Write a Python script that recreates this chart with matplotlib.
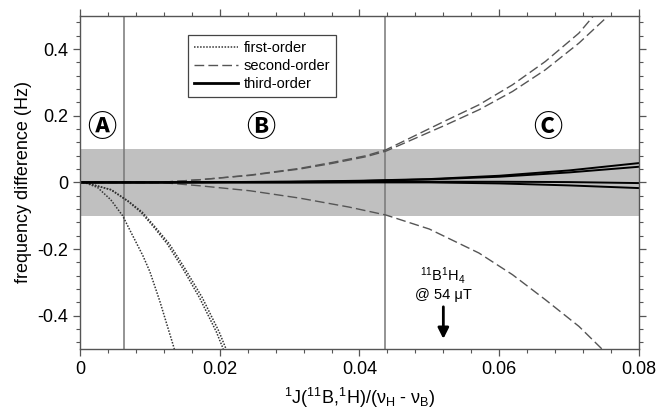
import numpy as np
import matplotlib.pyplot as plt
from matplotlib.ticker import MultipleLocator

plt.rcParams['font.family'] = ['Liberation Sans', 'DejaVu Sans']
plt.rcParams['mathtext.fontset'] = 'custom'
plt.rcParams['mathtext.rm'] = 'Liberation Sans'
plt.rcParams['mathtext.it'] = 'Liberation Sans:italic'

# first-order (dotted)
first_a_x = [0, 0.0006, 0.0025, 0.0044, 0.0061, 0.0073, 0.0090, 0.0100, 0.0114, 0.0135]
first_a_y = [0, 0, -0.015, -0.052, -0.100, -0.150, -0.220, -0.268, -0.355, -0.500]
first_b_x = [0, 0.0006, 0.0044, 0.0068, 0.0087, 0.0106, 0.0125, 0.0147, 0.0171, 0.0195, 0.0205]
first_b_y = [0, 0, -0.022, -0.056, -0.089, -0.135, -0.185, -0.258, -0.346, -0.448, -0.500]
first_c_x = [0, 0.0006, 0.0045, 0.0069, 0.0089, 0.0108, 0.0128, 0.0150, 0.0175, 0.0199, 0.0209]
first_c_y = [0, 0, -0.022, -0.056, -0.089, -0.135, -0.185, -0.258, -0.346, -0.448, -0.500]

# second-order (dashed)
second_up1_x = [0, 0.012, 0.0171, 0.0243, 0.0314, 0.0361, 0.0409, 0.0438, 0.0523, 0.0571, 0.0619, 0.0666, 0.0714, 0.0735]
second_up1_y = [0, 0.001, 0.008, 0.022, 0.042, 0.060, 0.080, 0.098, 0.185, 0.233, 0.293, 0.363, 0.448, 0.500]
second_up2_x = [0, 0.012, 0.0171, 0.0243, 0.0314, 0.0361, 0.0409, 0.0438, 0.0523, 0.0571, 0.0619, 0.0666, 0.0714, 0.0757]
second_up2_y = [0, 0.001, 0.008, 0.021, 0.040, 0.057, 0.077, 0.094, 0.172, 0.218, 0.273, 0.338, 0.418, 0.502]
second_dn_x = [0, 0.012, 0.0171, 0.0243, 0.0314, 0.0385, 0.0438, 0.0500, 0.0571, 0.0619, 0.0666, 0.0714, 0.0747]
second_dn_y = [0, -0.001, -0.010, -0.025, -0.047, -0.074, -0.098, -0.140, -0.212, -0.277, -0.352, -0.432, -0.500]

# third-order (solid)
third_x = [0, 0.01, 0.02, 0.03, 0.04, 0.05, 0.06, 0.07, 0.08]
third_1 = [0, 0, 0.001, 0.002, 0.005, 0.010, 0.020, 0.036, 0.058]
third_2 = [0, 0, 0.001, 0.002, 0.004, 0.009, 0.017, 0.030, 0.047]
third_3 = [0, 0, 0, 0, 0.001, 0.002, 0.002, 0.001, -0.002]
third_4 = [0, 0, 0, 0, 0, 0, -0.003, -0.009, -0.017]

region_lines = [0.0063, 0.0436]
band = (-0.1, 0.1)
regions = [(0.0031, 'Ⓐ'), (0.0259, 'Ⓑ'), (0.0669, 'Ⓒ')]
marker_x = 0.052

fig = plt.figure(figsize=(6.58, 4.09), dpi=100)
ax = fig.add_axes([0.1216, 0.1467, 0.8495, 0.8146])

ax.axhspan(band[0], band[1], color='#c0c0c0', zorder=0, lw=0)
for xv in region_lines:
    ax.axvline(xv, color='#777777', lw=1.1, zorder=1)

dot = dict(color='#333333', lw=1.1, ls=(0, (1, 1)))
l1, = ax.plot(first_a_x, first_a_y, **dot)
ax.plot(first_b_x, first_b_y, **dot)
ax.plot(first_c_x, first_c_y, **dot)

dash = dict(color='#555555', lw=1.0, ls=(0, (7, 3)))
l2, = ax.plot(second_up1_x, second_up1_y, **dash)
ax.plot(second_up2_x, second_up2_y, **dash)
ax.plot(second_dn_x, second_dn_y, **dash)

solid = dict(color='black', lw=1.4)
l3, = ax.plot(third_x, third_1, **solid)
ax.plot(third_x, third_2, **solid)
ax.plot(third_x, third_3, **solid)
ax.plot(third_x, third_4, **solid)

leg = ax.legend([l1, l2, l3], ['first-order', 'second-order', 'third-order'],
                loc='upper left', bbox_to_anchor=(0.18, 0.965), fontsize=10.5,
                handlelength=3, handletextpad=0.4, labelspacing=0.3,
                borderpad=0.4, fancybox=False, framealpha=1)
leg.get_frame().set_edgecolor('#444444')
leg.get_frame().set_linewidth(0.9)
leg.legend_handles[2].set_linewidth(2)

for xv, lab in regions:
    ax.text(xv, 0.165, lab, fontsize=21, ha='center', va='center', fontweight='bold',
            family=['Noto Sans CJK JP', 'DejaVu Sans'])

ax.text(marker_x, -0.28, r'$^{11}$B$^{1}$H$_{4}$', ha='center', va='center', fontsize=10.5)
ax.text(marker_x, -0.338, '@ 54 μT', ha='center', va='center', fontsize=10.5)
ax.annotate('', xy=(marker_x, -0.478), xytext=(marker_x, -0.365),
            arrowprops=dict(arrowstyle='-|>', color='black', lw=2, mutation_scale=16))

ax.set_xlim(0, 0.08)
ax.set_ylim(-0.5, 0.5)
ax.set_xticks([0, 0.02, 0.04, 0.06, 0.08])
ax.set_xticklabels(['0', '0.02', '0.04', '0.06', '0.08'])
ax.set_yticks([-0.4, -0.2, 0, 0.2, 0.4])
ax.set_yticklabels(['-0.4', '-0.2', '0', '0.2', '0.4'])
ax.xaxis.set_minor_locator(MultipleLocator(0.004))
ax.yaxis.set_minor_locator(MultipleLocator(0.04))
ax.tick_params(which='both', direction='out', top=True, right=True, colors='#555555',
               labelcolor='black', labelsize=13)
ax.tick_params(which='major', length=5, width=0.9)
ax.tick_params(which='minor', length=3, width=0.8)
for s in ax.spines.values():
    s.set_color('#555555')
    s.set_linewidth(1.0)

ax.set_xlabel(r'$^1$J($^{11}$B,$^1$H)/(ν$_{\mathrm{H}}$ - ν$_{\mathrm{B}}$)', fontsize=13, labelpad=6)
ax.set_ylabel('frequency difference (Hz)', fontsize=13, labelpad=4)

fig.savefig('out.png', dpi=100)
